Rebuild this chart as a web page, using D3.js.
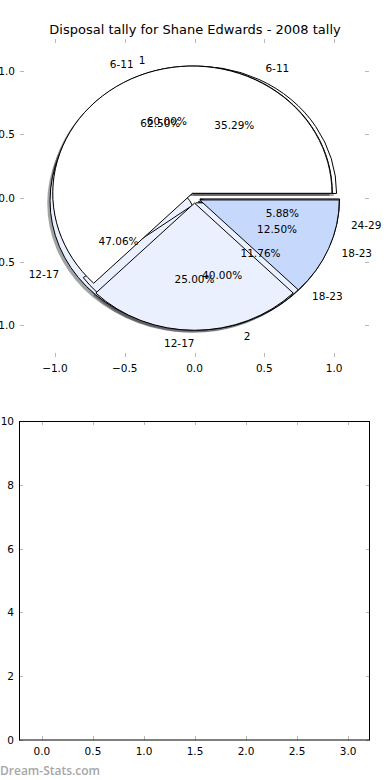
<!DOCTYPE html>
<html>
<head>
<meta charset="utf-8">
<script src="https://cdn.jsdelivr.net/npm/d3@7"></script>
<style>
  html, body { margin: 0; padding: 0; background: #fff; }
  svg { display: block; font-family: "DejaVu Sans", sans-serif; }
  .tick-label { font-size: 10.5px; fill: #000; }
  .pie-text { font-size: 10.5px; fill: #000; }
</style>
</head>
<body>
<svg id="chart" width="390" height="780"></svg>
<script>
// Three overlaid pies, drawn in this order (later ones on top).
const pieALabels = ["6-11", "12-17", "18-23", "24-29"];
const pieAValues = [6, 8, 2, 1];
const pieCLabels = ["1", "2"];
const pieCValues = [3, 2];
const pieBLabels = ["6-11", "12-17", "18-23"];
const pieBValues = [5, 2, 1];

const wedgeColors = ["#ffffff", "#eaf0fd", "#c6d9fd", "#a9c5fb"];
const pieTicks = [-1.0, -0.5, 0.0, 0.5, 1.0];
const lowerXTicks = [0.0, 0.5, 1.0, 1.5, 2.0, 2.5, 3.0];
const lowerYTicks = [0, 2, 4, 6, 8, 10];

const titleText = "Disposal tally for Shane Edwards - 2008 tally";
const watermark = "Dream-Stats.com";

const explode = 0.04;
const svg = d3.select("#chart");
const fmtTick = d3.format(".1f");
const minus = s => s.replace("-", "\u2212");

// ---------- pie axes ----------
const px = d3.scaleLinear().domain([-1.25, 1.25]).range([20, 369]);
const py = d3.scaleLinear().domain([-1.25, 1.25]).range([357, 39]);

svg.append("text")
  .attr("x", 195).attr("y", 34)
  .attr("text-anchor", "middle")
  .style("font-size", "13px")
  .text(titleText);

function drawTicks(xs, ys, ticksX, ticksY, labelX, labelY, color) {
  const g = svg.append("g").attr("stroke", color).attr("stroke-width", 1);
  const [x0, x1] = xs.range();
  const [y0, y1] = ys.range();
  ticksX.forEach(t => {
    const x = Math.round(xs(t)) + 0.5;
    g.append("line").attr("x1", x).attr("x2", x).attr("y1", y0).attr("y2", y0 - 4);
    g.append("line").attr("x1", x).attr("x2", x).attr("y1", y1).attr("y2", y1 + 4);
    svg.append("text").attr("class", "tick-label")
      .attr("x", xs(t)).attr("y", y0 + 15)
      .attr("text-anchor", "middle")
      .text(labelX(t));
  });
  ticksY.forEach(t => {
    const y = Math.round(ys(t)) + 0.5;
    g.append("line").attr("x1", x0).attr("x2", x0 + 4).attr("y1", y).attr("y2", y);
    g.append("line").attr("x1", x1).attr("x2", x1 - 4).attr("y1", y).attr("y2", y);
    svg.append("text").attr("class", "tick-label")
      .attr("x", x0 - 5).attr("y", ys(t) + 4)
      .attr("text-anchor", "end")
      .text(labelY(t));
  });
}

drawTicks(px, py, pieTicks, pieTicks,
  t => minus(fmtTick(t)), t => minus(fmtTick(t)), "#b8b8b8");

// Turn values into wedges: matplotlib style, counterclockwise from east.
function makeWedges(labels, values) {
  const total = d3.sum(values);
  const pie = d3.pie().sort(null).startAngle(0).endAngle(2 * Math.PI);
  return pie(values).map((d, i) => {
    const mid = (d.startAngle + d.endAngle) / 2;
    return {
      label: labels[i],
      pct: values[i] / total * 100,
      t1: d.startAngle,
      t2: d.endAngle,
      mid: mid,
      color: wedgeColors[i % wedgeColors.length],
      dx: explode * Math.cos(mid),
      dy: explode * Math.sin(mid)
    };
  });
}

const pies = [
  makeWedges(pieALabels, pieAValues),
  makeWedges(pieCLabels, pieCValues),
  makeWedges(pieBLabels, pieBValues)
];

const arc = d3.arc().innerRadius(0).outerRadius(1)
  .startAngle(w => Math.PI / 2 - w.t1)
  .endAngle(w => Math.PI / 2 - w.t2);

const kx = px(1) - px(0);
const ky = py(0) - py(1);

function wedgeTransform(w, ox, oy) {
  return "translate(" + px(w.dx + ox) + "," + py(w.dy + oy) + ") scale(" + kx + "," + ky + ")";
}

// shadows sit below every wedge
const shadowLayer = svg.append("g");
pies.forEach(ws => ws.forEach(w => {
  const c = d3.rgb(w.color);
  shadowLayer.append("path")
    .attr("d", arc(w))
    .attr("transform", wedgeTransform(w, -0.02, -0.02))
    .attr("fill", d3.rgb(c.r * 0.3, c.g * 0.3, c.b * 0.3))
    .attr("fill-opacity", 0.5);
}));

const wedgeLayer = svg.append("g");
pies.forEach(ws => ws.forEach(w => {
  wedgeLayer.append("path")
    .attr("d", arc(w))
    .attr("transform", wedgeTransform(w, 0, 0))
    .attr("fill", w.color)
    .attr("stroke", "#000")
    .attr("stroke-width", 1)
    .attr("vector-effect", "non-scaling-stroke");
}));

const textLayer = svg.append("g");
pies.forEach(ws => ws.forEach(w => {
  const lx = w.dx + 1.1 * Math.cos(w.mid);
  const ly = w.dy + 1.1 * Math.sin(w.mid);
  textLayer.append("text").attr("class", "pie-text")
    .attr("x", px(lx)).attr("y", py(ly) + 4)
    .attr("text-anchor", lx > 0 ? "start" : "end")
    .text(w.label);
  const tx = w.dx + 0.6 * Math.cos(w.mid);
  const ty = w.dy + 0.6 * Math.sin(w.mid);
  textLayer.append("text").attr("class", "pie-text")
    .attr("x", px(tx)).attr("y", py(ty) + 4)
    .attr("text-anchor", "middle")
    .text(w.pct.toFixed(2) + "%");
}));

// ---------- lower empty axes ----------
const bx = d3.scaleLinear().domain([-0.225, 3.215]).range([19, 370]);
const by = d3.scaleLinear().domain([0, 10]).range([740, 421]);

drawTicks(bx, by, lowerXTicks, lowerYTicks,
  t => fmtTick(t), t => String(t), "#b8b8b8");

svg.append("rect")
  .attr("x", 19.5).attr("y", 421.5)
  .attr("width", 350).attr("height", 318.5)
  .attr("fill", "none").attr("stroke", "#000").attr("stroke-width", 1);

svg.append("text")
  .attr("x", 0).attr("y", 775)
  .style("font-size", "12px")
  .style("font-family", "'Open Sans', sans-serif")
  .style("font-weight", "600")
  .attr("fill", "#a6a6a6")
  .text(watermark);
</script>
</body>
</html>
